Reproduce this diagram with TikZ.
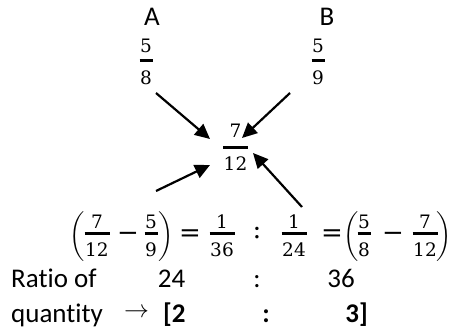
\documentclass[tikz,border=0pt]{standalone}
\usepackage{fontspec}
\usepackage{exscale}
\setmainfont{Carlito}[Ligatures=NoCommon]
\newfontfamily\mfont{DejaVu Serif}
\usetikzlibrary{arrows.meta}
% fraction: #1 name, #2 x, #3 bar y, #4 numerator, #5 denominator, #6 half bar width, #7 numerator lift
\newcommand\fr[7]{%
  \node[dig,anchor=base] (#1n) at (#2,#3-#7) {#4};
  \node[dig,anchor=base] (#1d) at (#2,#3+23.5) {#5};
  \draw[fbar] (#2-#6,#3) -- (#2+#6,#3);}
\begin{document}
\begin{tikzpicture}[x=1pt,y=-1pt,
  txt/.style={inner sep=0pt,font=\fontsize{27}{32}\selectfont},
  btxt/.style={inner sep=0pt,font=\fontsize{27}{32}\selectfont\bfseries},
  dig/.style={inner sep=0pt,font=\fontsize{18.5}{22}\mfont},
  sym/.style={inner sep=0pt,font=\fontsize{26}{30}\mfont},
  par/.style={inner sep=0pt,font=\fontsize{22}{26}\selectfont},
  arr/.style={inner sep=0pt,font=\fontsize{26}{30}\selectfont},
  fbar/.style={line width=3pt},
  conn/.style={line width=2.2pt,-{Triangle[length=15pt,width=14pt]}}]
\useasboundingbox (0,0) rectangle (454,331);
% top labels
\node[txt,anchor=base] (A) at (152,26) {A};
\node[txt,anchor=base] (B) at (327,26) {B};
\fr{fa}{146}{61}{5}{8}{6.5}{8}
\fr{fb}{318}{61}{5}{9}{6.5}{8}
\fr{fc}{235.5}{147}{7}{12}{12.5}{9}
% arrows
\coordinate (a1s) at (156,93);  \coordinate (a1e) at (210,139);
\coordinate (a2s) at (290,93);  \coordinate (a2e) at (242,138);
\coordinate (a3s) at (156,191); \coordinate (a3e) at (210,165);
\coordinate (a4s) at (302,207); \coordinate (a4e) at (253,153);
\draw[conn] (a1s) -- (a1e);
\draw[conn] (a2s) -- (a2e);
\draw[conn] (a3s) -- (a3e);
\draw[conn] (a4s) -- (a4e);
% equation
\node[par,anchor=base] (lp1) at (77,242) {$\biggl($};
\fr{e1}{97}{233}{7}{12}{12.5}{5}
\node[sym,anchor=base] (m1) at (128,241) {\char"2212};
\fr{e2}{151}{233}{5}{9}{6.5}{5}
\node[par,anchor=base] (rp1) at (166,242) {$\biggr)$};
\node[sym,anchor=base] (eq1) at (190,241) {=};
\fr{e3}{222}{233}{1}{36}{12.5}{5}
\node[sym,anchor=base] (col) at (257,238) {:};
\fr{e4}{294}{233}{1}{24}{12.5}{5}
\node[sym,anchor=base] (eq2) at (332,241) {=};
\node[par,anchor=base] (lp2) at (351,242) {$\biggl($};
\fr{e5}{364}{233}{5}{8}{6.5}{5}
\node[sym,anchor=base] (m2) at (393,241) {\char"2212};
\fr{e6}{425}{233}{7}{12}{12.5}{5}
\node[par,anchor=base] (rp2) at (444,242) {$\biggr)$};
% bottom lines
\node[txt,anchor=base west] (r1) at (11,287) {Ratio of};
\node[txt,anchor=base] (r24) at (171.5,287) {24};
\node[txt,anchor=base] (rc) at (257,287) {:};
\node[txt,anchor=base] (r36) at (341,287) {36};
\node[txt,anchor=base west] (q) at (11,322) {quantity};
\node[arr] (qa) at (136.5,313) {$\rightarrow$};
\node[btxt,anchor=base west] (q2) at (163,322) {[2};
\node[btxt,anchor=base] (qc) at (266,322) {:};
\node[btxt,anchor=base east] (q3) at (368,322) {3]};
\end{tikzpicture}
\end{document}
